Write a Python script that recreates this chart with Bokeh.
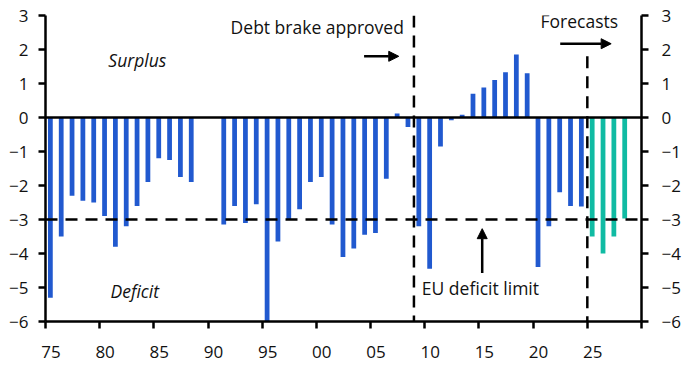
from bokeh.plotting import figure
from bokeh.models import FixedTicker, LinearAxis, Span, Label, Arrow, NormalHead, Range1d
from bokeh.embed import file_html
from bokeh.resources import INLINE

# ---- data ----
actual_years = list(range(1975, 1989)) + list(range(1991, 2025))
actual_values = [-5.3, -3.5, -2.3, -2.45, -2.5, -2.9, -3.8, -3.2, -2.6, -1.9, -1.2, -1.25, -1.75, -1.9,
                 -3.15, -2.6, -3.1, -2.55, -9.4, -3.65, -3.0, -2.7, -1.9, -1.75, -3.15, -4.1, -3.85,
                 -3.45, -3.4, -1.8, 0.12, -0.28, -3.2, -4.45, -0.85, -0.08, 0.08, 0.7, 0.88, 1.1,
                 1.33, 1.85, 1.3, -4.4, -3.2, -2.2, -2.6, -2.62]
forecast_years = [2025, 2026, 2027, 2028]
forecast_values = [-3.5, -4.0, -3.5, -2.97]
x_tick_years = list(range(1975, 2030, 5))
x_tick_labels = ["75", "80", "85", "90", "95", "00", "05", "10", "15", "20", "25"]
y_ticks = list(range(-6, 4))

BLUE = "#2159cf"
TEAL = "#10bba3"
FONT = "Open Sans"
TXT = "#111111"

p = figure(x_range=Range1d(1975, 2030), y_range=Range1d(-6, 3),
           frame_width=596, frame_height=306,
           min_border_left=45, min_border_right=40, min_border_top=15, min_border_bottom=42,
           output_backend="svg", toolbar_location=None)
p.xgrid.visible = False
p.ygrid.visible = False
p.outline_line_color = None
p.background_fill_color = "white"

p.vbar(x=[y + 0.45 for y in actual_years], top=actual_values, bottom=0, width=0.44,
       fill_color=BLUE, line_color=None)
p.vbar(x=[y + 0.45 for y in forecast_years], top=forecast_values, bottom=0, width=0.44,
       fill_color=TEAL, line_color=None)

# x axis: labels centred mid-year, ticks at year boundaries
xa = p.xaxis[0]
xa.ticker = FixedTicker(ticks=[y + 0.5 for y in x_tick_years],
                        minor_ticks=x_tick_years + [2030])
xa.major_label_overrides = {y + 0.5: lab for y, lab in zip(x_tick_years, x_tick_labels)}
xa.major_tick_out = 0
xa.major_tick_in = 0
xa.minor_tick_out = 7
xa.minor_tick_in = 0
xa.minor_tick_line_width = 2.5
xa.minor_tick_line_color = "black"
xa.axis_line_width = 2.5
xa.axis_line_color = "black"
xa.major_label_text_font = FONT
xa.major_label_text_font_size = "17px"
xa.major_label_text_color = TXT
xa.major_label_standoff = 17

def style_y(ax, standoff):
    ax.ticker = FixedTicker(ticks=y_ticks)
    ax.major_tick_out = 7
    ax.major_tick_in = 0
    ax.minor_tick_out = 0
    ax.minor_tick_in = 0
    ax.major_tick_line_width = 2.5
    ax.major_tick_line_color = "black"
    ax.axis_line_width = 2.5
    ax.axis_line_color = "black"
    ax.major_label_text_font = FONT
    ax.major_label_text_font_size = "17px"
    ax.major_label_text_color = TXT
    ax.major_label_standoff = standoff

style_y(p.yaxis[0], 10)
ry = LinearAxis()
style_y(ry, 13)
p.add_layout(ry, "right")

# reference lines
p.add_layout(Span(location=0, dimension="width", line_color="black", line_width=2.5))
p.add_layout(Span(location=-3, dimension="width", line_color="black", line_width=2.5,
                  line_dash="12 8"))
p.add_layout(Span(location=2009, dimension="height", line_color="black", line_width=2.5,
                  line_dash="12 8"))
p.segment(x0=[2025], y0=[1.8], x1=[2025], y1=[-6], line_color="black", line_width=2.5,
          line_dash="12 8")

# annotations
def lab(x, y, t, align="left", style="normal"):
    p.add_layout(Label(x=x, y=y, text=t, text_font=FONT, text_font_size="17.5px",
                       text_color=TXT, text_align=align, text_baseline="alphabetic",
                       text_font_style=style))

lab(2008.07, 2.66, "Debt brake approved", align="right")
lab(2024.26, 2.85, "Forecasts", align="center")
lab(1980.8, 1.68, "Surplus", style="italic")
lab(1981.0, -5.11, "Deficit", style="italic")
lab(2009.73, -5.02, "EU deficit limit")

def arrow(x0, y0, x1, y1):
    p.add_layout(Arrow(end=NormalHead(size=10, fill_color="black", line_color="black"),
                       x_start=x0, y_start=y0, x_end=x1, y_end=y1,
                       line_color="black", line_width=2.5))

arrow(2004.4, 1.8, 2007.6, 1.8)
arrow(2022.5, 2.17, 2027.2, 2.17)
arrow(2015.3, -4.57, 2015.3, -3.27)

open("out.html", "w").write(file_html(p, INLINE))
